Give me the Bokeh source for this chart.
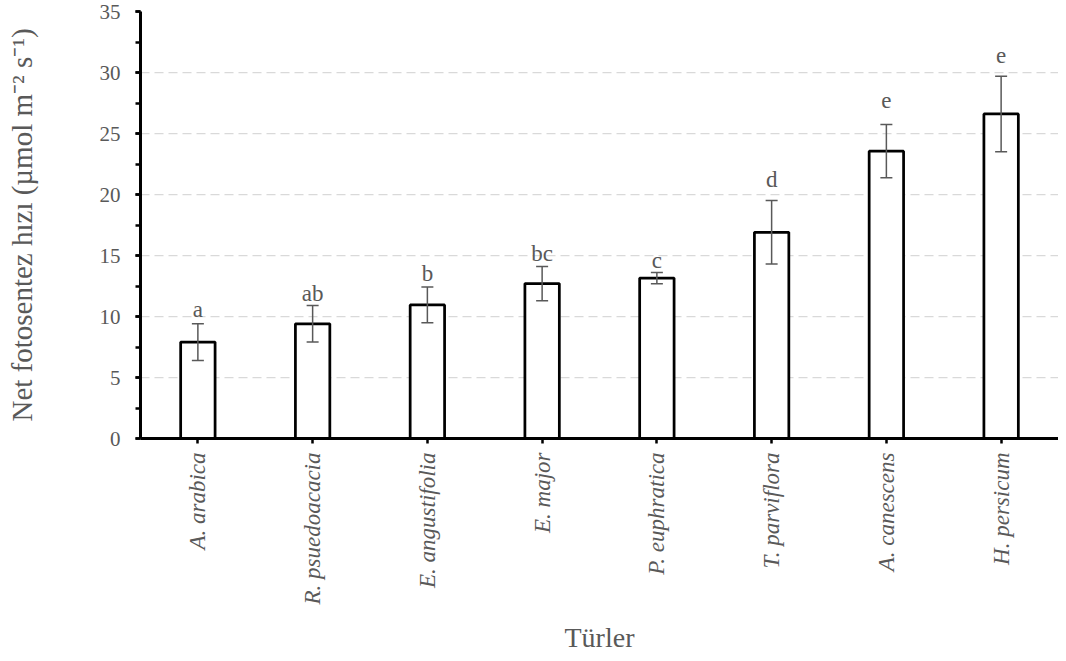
import math
from bokeh.plotting import figure
from bokeh.models import ColumnDataSource, Whisker, TeeHead, SingleIntervalTicker, Range1d
from bokeh.core.properties import value
from bokeh.embed import file_html
from bokeh.resources import INLINE

species = ["A. arabica", "R. psuedoacacia", "E. angustifolia", "E. major",
           "P. euphratica", "T. parviflora", "A. canescens", "H. persicum"]
means = [7.9, 9.4, 10.95, 12.7, 13.15, 16.9, 23.55, 26.6]
errors = [1.5, 1.5, 1.47, 1.4, 0.46, 2.6, 2.18, 3.1]
letters = ["a", "ab", "b", "bc", "c", "d", "e", "e"]
letter_pad = [1.2, 1.0, 1.07, 1.1, 0.95, 1.76, 1.95, 1.7]

upper = [m + e for m, e in zip(means, errors)]
lower = [m - e for m, e in zip(means, errors)]
label_y = [u + d for u, d in zip(upper, letter_pad)]

source = ColumnDataSource(dict(species=species, mean=means, upper=upper,
                               lower=lower, letter=letters, label_y=label_y))

FONT = "Liberation Serif"
GRAY = "#595959"

p = figure(x_range=species, y_range=Range1d(0, 35), width=1058, height=655,
           output_backend="svg", toolbar_location=None,
           min_border_left=140, min_border_right=0, min_border_top=11,
           min_border_bottom=214)
p.outline_line_color = None
p.background_fill_color = "white"

ticker = SingleIntervalTicker(interval=5, num_minor_ticks=2)
p.yaxis.ticker = ticker
p.ygrid.ticker = ticker
p.xgrid.grid_line_color = None
p.ygrid.grid_line_color = "#d9d9d9"
p.ygrid.grid_line_dash = "9 5"
p.ygrid.grid_line_width = 1.25

p.vbar(x="species", top="mean", width=0.3, source=source,
       fill_color="white", line_color="black", line_width=2.75)

w = Whisker(source=source, base="species", upper="upper", lower="lower",
            line_color=GRAY, line_width=1.5, level="overlay",
            upper_head=TeeHead(size=12, line_color=GRAY, line_width=1.5),
            lower_head=TeeHead(size=12, line_color=GRAY, line_width=1.5))
p.add_layout(w)

p.text(x="species", y="label_y", text="letter", source=source,
       text_font=value(FONT), text_font_size=value("23px"), text_color=GRAY,
       text_align="center", text_baseline="alphabetic")

# y axis
ya = p.yaxis[0]
ya.axis_line_width = 3
ya.axis_line_color = "black"
ya.major_tick_line_width = 2.5
ya.major_tick_line_color = "black"
ya.minor_tick_line_width = 2.5
ya.minor_tick_line_color = "black"
ya.major_tick_out = 5
ya.major_tick_in = 0
ya.minor_tick_out = 5
ya.minor_tick_in = 0
ya.major_label_text_font = FONT
ya.major_label_text_font_size = "21px"
ya.major_label_text_color = GRAY
ya.major_label_standoff = 15
ya.axis_label = "Net fotosentez hızı (µmol m⁻² s⁻¹)"
ya.axis_label_text_font = FONT
ya.axis_label_text_font_size = "29px"
ya.axis_label_text_font_style = "normal"
ya.axis_label_text_color = GRAY
ya.axis_label_standoff = 59

# x axis
xa = p.xaxis[0]
xa.axis_line_width = 3
xa.axis_line_color = "black"
xa.major_tick_line_width = 2.5
xa.major_tick_line_color = "black"
xa.major_tick_out = 5
xa.major_tick_in = 0
xa.minor_tick_line_color = None
xa.major_label_orientation = math.pi / 2
xa.major_label_text_font = FONT
xa.major_label_text_font_size = "23px"
xa.major_label_text_font_style = "italic"
xa.major_label_text_color = GRAY
xa.major_label_standoff = 9
xa.axis_label = "Türler"
xa.axis_label_text_font = FONT
xa.axis_label_text_font_size = "28px"
xa.axis_label_text_font_style = "normal"
xa.axis_label_text_color = GRAY
xa.axis_label_standoff = 14

open("out.html", "w").write(file_html(p, INLINE))
